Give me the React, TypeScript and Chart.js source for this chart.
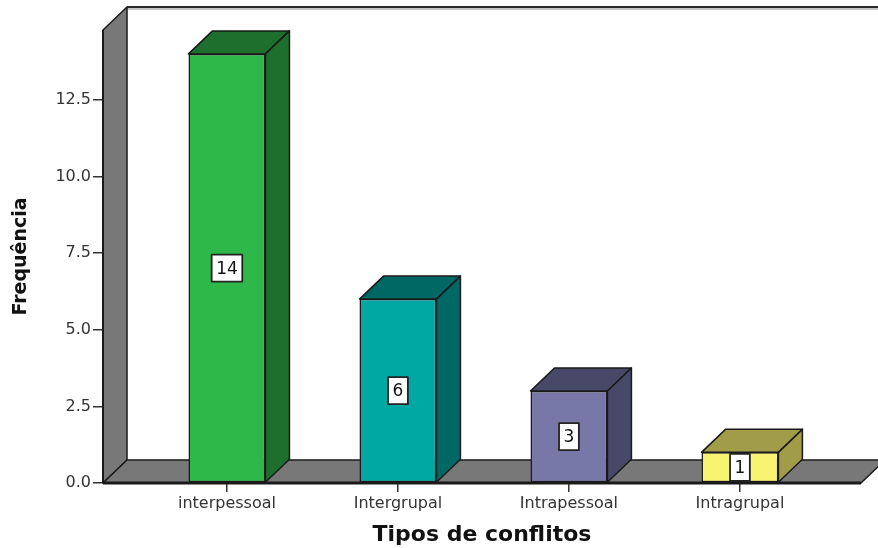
import React, { useEffect, useRef } from "react";
import { Chart, registerables } from "chart.js";

Chart.register(...registerables);

const CATEGORIES = ["interpessoal", "Intergrupal", "Intrapessoal", "Intragrupal"];
const FREQUENCIES = [14, 6, 3, 1];
const FRONT_COLORS = ["#2eb84a", "#00a8a4", "#7878a8", "#f8f470"];
const SIDE_COLORS = ["#1e6e2e", "#006864", "#484868", "#a09c48"];
const Y_TICKS = [0, 2.5, 5, 7.5, 10, 12.5];
const Y_TITLE = "Frequência";
const X_TITLE = "Tipos de conflitos";

const DX = 24;
const DY = 23;
const WALL = "#787878";
const EDGE = "#1a1a1a";

function poly(ctx: CanvasRenderingContext2D, pts: number[][], fill: string, stroke: string, lw: number) {
  ctx.beginPath();
  ctx.moveTo(pts[0][0], pts[0][1]);
  for (let i = 1; i < pts.length; i++) ctx.lineTo(pts[i][0], pts[i][1]);
  ctx.closePath();
  ctx.fillStyle = fill;
  ctx.fill();
  ctx.lineWidth = lw;
  ctx.strokeStyle = stroke;
  ctx.lineJoin = "round";
  ctx.stroke();
}

const threeD = {
  id: "threeD",
  beforeDatasetsDraw(chart: any) {
    const { ctx, chartArea } = chart;
    const { left, right, top, bottom } = chartArea;
    ctx.save();
    // back wall
    ctx.fillStyle = "#ffffff";
    ctx.fillRect(left + DX, top - DY, right - left, bottom - top);
    ctx.beginPath();
    ctx.strokeStyle = "#c4c4c4";
    ctx.lineWidth = 2;
    ctx.moveTo(left + DX, top - DY + 2);
    ctx.lineTo(right + DX + 10, top - DY + 2);
    ctx.stroke();
    ctx.beginPath();
    ctx.strokeStyle = "#2a2a2a";
    ctx.lineWidth = 2;
    ctx.moveTo(left + DX, top - DY);
    ctx.lineTo(right + DX + 10, top - DY);
    ctx.stroke();
    // left wall
    poly(ctx, [[left, bottom], [left, top], [left + DX, top - DY], [left + DX, bottom - DY]], WALL, EDGE, 1.5);
    // floor
    poly(ctx, [[left, bottom], [left + DX, bottom - DY], [right + DX, bottom - DY], [right, bottom]], WALL, EDGE, 1.5);
    ctx.beginPath();
    ctx.strokeStyle = EDGE;
    ctx.lineWidth = 3;
    ctx.moveTo(left, bottom);
    ctx.lineTo(right, bottom);
    ctx.stroke();
    ctx.beginPath();
    ctx.lineWidth = 2;
    ctx.moveTo(left, bottom);
    ctx.lineTo(left, top);
    ctx.stroke();
    ctx.restore();
  },
  afterDatasetsDraw(chart: any) {
    const { ctx } = chart;
    const meta = chart.getDatasetMeta(0);
    ctx.save();
    meta.data.forEach((bar: any, i: number) => {
      const { x, y, base, width } = bar.getProps(["x", "y", "base", "width"], true);
      const l = x - width / 2;
      const r = x + width / 2;
      poly(ctx, [[l, y], [l + DX, y - DY], [r + DX, y - DY], [r, y]], SIDE_COLORS[i], EDGE, 1.5);
      poly(ctx, [[r, y], [r + DX, y - DY], [r + DX, base - DY], [r, base]], SIDE_COLORS[i], EDGE, 1.5);
      // value label box
      const txt = String(FREQUENCIES[i]);
      ctx.font = '17px "DejaVu Sans"';
      const tw = ctx.measureText(txt).width;
      const bw = tw + 9;
      const bh = 27;
      const cy = (y + base) / 2;
      ctx.fillStyle = "#ffffff";
      ctx.fillRect(x - bw / 2, cy - bh / 2, bw, bh);
      ctx.lineWidth = 1.8;
      ctx.strokeStyle = "#222";
      ctx.strokeRect(x - bw / 2, cy - bh / 2, bw, bh);
      ctx.fillStyle = "#111";
      ctx.textAlign = "center";
      ctx.textBaseline = "middle";
      ctx.fillText(txt, x, cy + 1);
    });
    ctx.restore();
  },
};

export default function App() {
  const ref = useRef<HTMLCanvasElement>(null);
  useEffect(() => {
    if (!ref.current) return;
    const chart = new Chart(ref.current, {
      type: "bar",
      data: {
        datasets: [
          {
            data: FREQUENCIES.map((v, i) => ({ x: i, y: v })),
            backgroundColor: FRONT_COLORS,
            borderColor: EDGE,
            borderWidth: 1.5,
            borderSkipped: false,
            barPercentage: 0.45,
            categoryPercentage: 1,
          } as any,
        ],
      },
      options: {
        animation: false,
        responsive: false,
        devicePixelRatio: 1,
        layout: { padding: { top: 30, right: 17, left: 0, bottom: 0 } },
        plugins: { legend: { display: false }, tooltip: { enabled: false } },
        scales: {
          x: {
            type: "linear",
            offset: false,
            min: -0.725,
            max: 3.708,
            afterBuildTicks: (s: any) => {
              s.ticks = CATEGORIES.map((_, i) => ({ value: i }));
            },
            afterFit: (s: any) => {
              s.height = 65;
            },
            ticks: {
              autoSkip: false,
              maxRotation: 0,
              padding: 2,
              color: "#333",
              font: { family: "DejaVu Sans", size: 16 },
              callback: (v: any) => CATEGORIES[v] ?? "",
            },
            grid: { offset: false, drawOnChartArea: false, drawTicks: true, tickLength: 9, color: "#333", lineWidth: 1.5 },
            border: { display: false },
            title: {
              display: true,
              text: X_TITLE,
              color: "#111",
              font: { family: "DejaVu Sans", size: 22, weight: "bold" },
              padding: { top: 0, bottom: 0 },
            },
          },
          y: {
            min: 0,
            max: 14.78,
            afterBuildTicks: (s: any) => {
              s.ticks = Y_TICKS.map((v) => ({ value: v }));
            },
            afterFit: (s: any) => {
              s.width = 103;
            },
            ticks: {
              padding: 2,
              color: "#333",
              font: { family: "DejaVu Sans", size: 16 },
              callback: (v: any) => Number(v).toFixed(1),
            },
            grid: { drawOnChartArea: false, drawTicks: true, tickLength: 10, color: "#333", lineWidth: 1.5 },
            border: { display: false },
            title: {
              display: true,
              text: Y_TITLE,
              color: "#111",
              font: { family: "DejaVu Sans", size: 19, weight: "bold" },
              padding: { top: 10, bottom: 0 },
            },
          },
        },
      },
      plugins: [threeD],
    });
    return () => chart.destroy();
  }, []);
  return (
    <div style={{ position: "absolute", left: 0, top: 0, width: 878, height: 548, background: "#fff" }}>
      <canvas ref={ref} width={878} height={548} />
    </div>
  );
}
